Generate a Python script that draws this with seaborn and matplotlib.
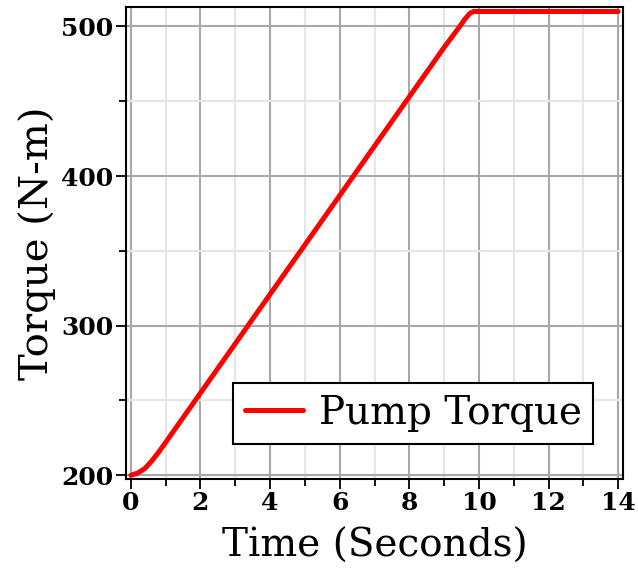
import numpy as np
import pandas as pd
import matplotlib
matplotlib.use("Agg")
import matplotlib.pyplot as plt
import seaborn as sns
from matplotlib.ticker import MultipleLocator

time_s = [0, 0.2, 0.4, 0.6, 0.8, 1.0, 1.5, 2, 4, 6, 8, 9.0, 9.45, 9.6, 9.75, 9.85, 14]
torque = [200, 201.5, 204.5, 209.5, 215.5, 222, 238.5, 255, 321, 387, 453, 486, 500, 505, 509, 510, 510]
series_label = "Pump Torque"
x_label = "Time (Seconds)"
y_label = "Torque (N-m)"

df = pd.DataFrame({"t": time_s, "torque": torque})

sns.set_theme(style="white")
plt.rcParams["font.family"] = ["DejaVu Serif"]
plt.rcParams["text.color"] = "black"
plt.rcParams["axes.labelcolor"] = "black"
plt.rcParams["xtick.color"] = "black"
plt.rcParams["ytick.color"] = "black"

W, H = 638, 575
fig = plt.figure(figsize=(W / 100, H / 100), dpi=100)
ax = fig.add_axes([126 / W, 1 - 479 / H, (623 - 126) / W, (479 - 7) / H])

sns.lineplot(data=df, x="t", y="torque", ax=ax, color="#ff0000", linewidth=3.6,
             label=series_label)

ax.set_xlim(-0.14, 14.14)
ax.set_ylim(197.5, 513)
ax.xaxis.set_major_locator(MultipleLocator(2))
ax.xaxis.set_minor_locator(MultipleLocator(1))
ax.yaxis.set_major_locator(MultipleLocator(100))
ax.yaxis.set_minor_locator(MultipleLocator(50))
ax.grid(which="major", color="#a8a8a8", linewidth=1.5)
ax.grid(which="minor", color="#e6e6e6", linewidth=1.5)
ax.set_axisbelow(True)
for s in ax.spines.values():
    s.set_color("black")
    s.set_linewidth(1.5)
ax.tick_params(which="major", direction="out", length=7, width=1.3, color="black",
               labelsize=18, pad=2, bottom=True, left=True)
ax.tick_params(which="minor", direction="out", length=5, width=1.3, color="black",
               bottom=True, left=True)
for lab in ax.get_xticklabels() + ax.get_yticklabels():
    lab.set_fontweight("bold")
ax.set_xlabel(x_label, fontsize=28, labelpad=9)
ax.set_ylabel(y_label, fontsize=29, labelpad=4)

leg = ax.legend(loc="lower right", bbox_to_anchor=(0.94, 0.075), borderaxespad=0,
                fontsize=28, frameon=True, fancybox=False, edgecolor="black",
                framealpha=1, handlelength=1.5, borderpad=0.3, handletextpad=0.4)
leg.get_frame().set_linewidth(1.5)

fig.savefig("out.png", dpi=100)
